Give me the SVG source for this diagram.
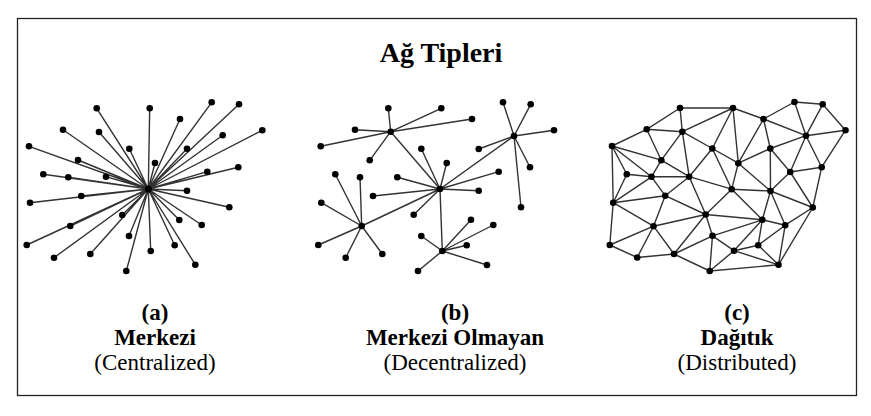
<svg xmlns="http://www.w3.org/2000/svg" xmlns:xlink="http://www.w3.org/1999/xlink" width="871" height="416" viewBox="0 0 871 416">
<style>
.e{stroke:#333;stroke-width:1.4;fill:none;stroke-linecap:round}
.n{fill:#000}
.t{font-family:"Liberation Serif","Times New Roman",serif;fill:#000;text-anchor:middle}
.b{font-weight:bold}
</style>
<rect width="871" height="416" fill="#fff"/>
<rect x="17.5" y="18.5" width="839" height="377" fill="none" stroke="#222" stroke-width="1.3"/>
<text class="t b" x="441" y="62" font-size="28">Ağ Tipleri</text>

<g id="connectors">
<g id="conn-a" class="e">
<path d="M148.3 189L96.7 108.3M148.3 189L149.7 108.3M148.3 189L211.7 102.3M148.3 189L239 104.3M148.3 189L180 119M148.3 189L63 129.7M148.3 189L99 132M148.3 189L262.3 130.3M148.3 189L222.7 135.3M148.3 189L29 146.3M148.3 189L129.3 148.7M148.3 189L187 148.7M148.3 189L78 160M148.3 189L155 163M148.3 189L43.3 174.3M148.3 189L68.3 177.3M148.3 189L106 176.7M148.3 189L207.3 171.7M148.3 189L238.3 167.3M148.3 189L30 202.7M148.3 189L81.3 196M148.3 189L187 190.7M148.3 189L229.3 207.3M148.3 189L122.3 215M148.3 189L179.3 220M148.3 189L201.7 225M148.3 189L70.3 226M148.3 189L129 236M148.3 189L26.7 245M148.3 189L54 257.7M148.3 189L90.3 254M148.3 189L150.7 251M148.3 189L174.7 245.3M148.3 189L195.3 264.7M148.3 189L126.3 271"/>
</g>
<g id="conn-b" class="e">
<path d="M390.7 131.7L388.3 108.3M390.7 131.7L441.3 108.3M390.7 131.7L472 119M390.7 131.7L355 129.7M390.7 131.7L320.7 146.3M390.7 131.7L369.7 160.3M390.7 131.7L440 189"/>
<path d="M440 189L421.3 148.7M440 189L446.7 163M440 189L397.3 177.3M440 189L498.7 171.7M440 189L373 196M440 189L478.7 190.7M440 189L413.7 214.7M440 189L514 136M440 189L361.7 226M440 189L442.3 251"/>
<path d="M514 136L503 102.3M514 136L530.7 104.3M514 136L554 130.3M514 136L478.7 149M514 136L530 167.3M514 136L521 207.3"/>
<path d="M361.7 226L335.3 174.3M361.7 226L360 177.3M361.7 226L321.3 202.7M361.7 226L318.3 245M361.7 226L345.7 257.7M361.7 226L382.3 254"/>
<path d="M442.3 251L421.3 236M442.3 251L471 219.7M442.3 251L493.3 225M442.3 251L466.7 245.3M442.3 251L487 265M442.3 251L418 271"/>
</g>
<g id="conn-c" class="e">
<path d="M680 108L733 108M680 108L646.7 129.3M680 108L682.3 131.7M733 108L682.3 131.7M733 108L712.3 148.5M733 108L738.3 163.2M733 108L763.5 119M763.5 119L794.5 102M794.5 102L822.7 104.3M822.7 104.3L845.5 130.2M794.5 102L806 135.7M822.7 104.3L806 135.7M845.5 130.2L806 135.7M763.5 119L806 135.7M763.5 119L770.3 148.5M763.5 119L738.3 163.2M806 135.7L770.3 148.5M806 135.7L790.2 172M806 135.7L821.7 167.2M845.5 130.2L821.7 167.2"/>
<path d="M770.3 148.5L738.3 163.2M770.3 148.5L770.5 191M770.3 148.5L790.2 172M790.2 172L821.7 167.2M790.2 172L770.5 191M790.2 172L812.8 207.5M821.7 167.2L812.8 207.5M738.3 163.2L731.7 189.2M738.3 163.2L770.5 191M738.3 163.2L712.3 148.5M731.7 189.2L770.5 191M770.5 191L812.8 207.5M770.5 191L762.3 219.8M770.5 191L785.2 225.2M731.7 189.2L762.3 219.8M731.7 189.2L689.2 176.7M731.7 189.2L712.3 148.5M731.7 189.2L705.7 214.5"/>
<path d="M712.3 148.5L682.3 131.7M712.3 148.5L689.2 176.7M682.3 131.7L661.3 160.2M682.3 131.7L689.2 176.7M646.7 129.3L682.3 131.7M646.7 129.3L661.3 160.2M646.7 129.3L612 146M612 146L661.3 160.2M612 146L626.8 174.3M612 146L651.5 176.8M612 146L613.2 202.7M661.3 160.2L689.2 176.7M661.3 160.2L651.5 176.8M626.8 174.3L651.5 176.8M651.5 176.8L689.2 176.7M651.5 176.8L665.2 195.7M665.2 195.7L689.2 176.7"/>
<path d="M613.2 202.7L626.8 174.3M613.2 202.7L651.5 176.8M613.2 202.7L665.2 195.7M613.2 202.7L653.5 226.2M613.2 202.7L609.8 245M665.2 195.7L653.5 226.2M665.2 195.7L705.7 214.5M689.2 176.7L705.7 214.5M653.5 226.2L705.7 214.5M653.5 226.2L609.8 245M653.5 226.2L637.2 257.5M653.5 226.2L674 254M609.8 245L637.2 257.5M637.2 257.5L674 254M674 254L705.7 214.5M674 254L712.5 235.8M705.7 214.5L712.5 235.8M705.7 214.5L762.3 219.8M712.5 235.8L762.3 219.8M712.5 235.8L734 250.7M712.5 235.8L709.7 271M674 254L709.7 271"/>
<path d="M709.7 271L734 250.7M709.7 271L778.5 264.8M734 250.7L778.5 264.8M734 250.7L758.2 245.2M758.2 245.2L778.5 264.8M762.3 219.8L734 250.7M762.3 219.8L758.2 245.2M762.3 219.8L785.2 225.2M785.2 225.2L758.2 245.2M785.2 225.2L778.5 264.8M812.8 207.5L785.2 225.2M812.8 207.5L778.5 264.8"/>
</g>
</g>

<g id="nodes-a" class="n">
<g id="a-hub"><circle cx="148.3" cy="189" r="3.6"/></g>
<g id="a1"><circle cx="96.7" cy="108.3" r="3.3"/></g>
<g id="a2"><circle cx="149.7" cy="108.3" r="3.3"/></g>
<g id="a3"><circle cx="211.7" cy="102.3" r="3.3"/></g>
<g id="a4"><circle cx="239" cy="104.3" r="3.3"/></g>
<g id="a5"><circle cx="180" cy="119" r="3.3"/></g>
<g id="a6"><circle cx="63" cy="129.7" r="3.3"/></g>
<g id="a7"><circle cx="99" cy="132" r="3.3"/></g>
<g id="a8"><circle cx="262.3" cy="130.3" r="3.3"/></g>
<g id="a9"><circle cx="222.7" cy="135.3" r="3.3"/></g>
<g id="a10"><circle cx="29" cy="146.3" r="3.3"/></g>
<g id="a11"><circle cx="129.3" cy="148.7" r="3.3"/></g>
<g id="a12"><circle cx="187" cy="148.7" r="3.3"/></g>
<g id="a13"><circle cx="78" cy="160" r="3.3"/></g>
<g id="a14"><circle cx="155" cy="163" r="3.3"/></g>
<g id="a15"><circle cx="43.3" cy="174.3" r="3.3"/></g>
<g id="a16"><circle cx="68.3" cy="177.3" r="3.3"/></g>
<g id="a17"><circle cx="106" cy="176.7" r="3.3"/></g>
<g id="a18"><circle cx="207.3" cy="171.7" r="3.3"/></g>
<g id="a19"><circle cx="238.3" cy="167.3" r="3.3"/></g>
<g id="a20"><circle cx="30" cy="202.7" r="3.3"/></g>
<g id="a21"><circle cx="81.3" cy="196" r="3.3"/></g>
<g id="a22"><circle cx="187" cy="190.7" r="3.3"/></g>
<g id="a23"><circle cx="229.3" cy="207.3" r="3.3"/></g>
<g id="a24"><circle cx="122.3" cy="215" r="3.3"/></g>
<g id="a25"><circle cx="179.3" cy="220" r="3.3"/></g>
<g id="a26"><circle cx="201.7" cy="225" r="3.3"/></g>
<g id="a27"><circle cx="70.3" cy="226" r="3.3"/></g>
<g id="a28"><circle cx="129" cy="236" r="3.3"/></g>
<g id="a29"><circle cx="26.7" cy="245" r="3.3"/></g>
<g id="a30"><circle cx="54" cy="257.7" r="3.3"/></g>
<g id="a31"><circle cx="90.3" cy="254" r="3.3"/></g>
<g id="a32"><circle cx="150.7" cy="251" r="3.3"/></g>
<g id="a33"><circle cx="174.7" cy="245.3" r="3.3"/></g>
<g id="a34"><circle cx="195.3" cy="264.7" r="3.3"/></g>
<g id="a35"><circle cx="126.3" cy="271" r="3.3"/></g>
</g>

<g id="nodes-b" class="n">
<g id="b-h1"><circle cx="390.7" cy="131.7" r="3.3"/></g>
<g id="b-h2"><circle cx="440" cy="189" r="3.3"/></g>
<g id="b-h3"><circle cx="514" cy="136" r="3.3"/></g>
<g id="b-h4"><circle cx="361.7" cy="226" r="3.3"/></g>
<g id="b-h5"><circle cx="442.3" cy="251" r="3.3"/></g>
<g id="b1"><circle cx="388.3" cy="108.3" r="3.3"/></g>
<g id="b2"><circle cx="441.3" cy="108.3" r="3.3"/></g>
<g id="b3"><circle cx="472" cy="119" r="3.3"/></g>
<g id="b4"><circle cx="355" cy="129.7" r="3.3"/></g>
<g id="b5"><circle cx="320.7" cy="146.3" r="3.3"/></g>
<g id="b6"><circle cx="369.7" cy="160.3" r="3.3"/></g>
<g id="b7"><circle cx="421.3" cy="148.7" r="3.3"/></g>
<g id="b8"><circle cx="446.7" cy="163" r="3.3"/></g>
<g id="b9"><circle cx="397.3" cy="177.3" r="3.3"/></g>
<g id="b10"><circle cx="498.7" cy="171.7" r="3.3"/></g>
<g id="b11"><circle cx="373" cy="196" r="3.3"/></g>
<g id="b12"><circle cx="478.7" cy="190.7" r="3.3"/></g>
<g id="b13"><circle cx="413.7" cy="214.7" r="3.3"/></g>
<g id="b14"><circle cx="503" cy="102.3" r="3.3"/></g>
<g id="b15"><circle cx="530.7" cy="104.3" r="3.3"/></g>
<g id="b16"><circle cx="554" cy="130.3" r="3.3"/></g>
<g id="b17"><circle cx="478.7" cy="149" r="3.3"/></g>
<g id="b18"><circle cx="530" cy="167.3" r="3.3"/></g>
<g id="b19"><circle cx="521" cy="207.3" r="3.3"/></g>
<g id="b20"><circle cx="335.3" cy="174.3" r="3.3"/></g>
<g id="b21"><circle cx="360" cy="177.3" r="3.3"/></g>
<g id="b22"><circle cx="321.3" cy="202.7" r="3.3"/></g>
<g id="b23"><circle cx="318.3" cy="245" r="3.3"/></g>
<g id="b24"><circle cx="345.7" cy="257.7" r="3.3"/></g>
<g id="b25"><circle cx="382.3" cy="254" r="3.3"/></g>
<g id="b26"><circle cx="421.3" cy="236" r="3.3"/></g>
<g id="b27"><circle cx="471" cy="219.7" r="3.3"/></g>
<g id="b28"><circle cx="493.3" cy="225" r="3.3"/></g>
<g id="b29"><circle cx="466.7" cy="245.3" r="3.3"/></g>
<g id="b30"><circle cx="487" cy="265" r="3.3"/></g>
<g id="b31"><circle cx="418" cy="271" r="3.3"/></g>
</g>

<g id="nodes-c" class="n">
<g id="cA"><circle cx="680" cy="108" r="3.3"/></g>
<g id="cB"><circle cx="733" cy="108" r="3.3"/></g>
<g id="cC"><circle cx="794.5" cy="102" r="3.3"/></g>
<g id="cD"><circle cx="822.7" cy="104.3" r="3.3"/></g>
<g id="cE"><circle cx="763.5" cy="119" r="3.3"/></g>
<g id="cF"><circle cx="646.7" cy="129.3" r="3.3"/></g>
<g id="cG"><circle cx="682.3" cy="131.7" r="3.3"/></g>
<g id="cH"><circle cx="845.5" cy="130.2" r="3.3"/></g>
<g id="cI"><circle cx="806" cy="135.7" r="3.3"/></g>
<g id="cJ"><circle cx="612" cy="146" r="3.3"/></g>
<g id="cK"><circle cx="712.3" cy="148.5" r="3.3"/></g>
<g id="cL"><circle cx="770.3" cy="148.5" r="3.3"/></g>
<g id="cM"><circle cx="661.3" cy="160.2" r="3.3"/></g>
<g id="cN"><circle cx="738.3" cy="163.2" r="3.3"/></g>
<g id="cO"><circle cx="626.8" cy="174.3" r="3.3"/></g>
<g id="cP"><circle cx="651.5" cy="176.8" r="3.3"/></g>
<g id="cQ"><circle cx="689.2" cy="176.7" r="3.3"/></g>
<g id="cR"><circle cx="790.2" cy="172" r="3.3"/></g>
<g id="cS"><circle cx="821.7" cy="167.2" r="3.3"/></g>
<g id="cT"><circle cx="613.2" cy="202.7" r="3.3"/></g>
<g id="cU"><circle cx="665.2" cy="195.7" r="3.3"/></g>
<g id="cV"><circle cx="731.7" cy="189.2" r="3.3"/></g>
<g id="cW"><circle cx="770.5" cy="191" r="3.3"/></g>
<g id="cX"><circle cx="812.8" cy="207.5" r="3.3"/></g>
<g id="cY"><circle cx="705.7" cy="214.5" r="3.3"/></g>
<g id="cZ"><circle cx="762.3" cy="219.8" r="3.3"/></g>
<g id="ca"><circle cx="785.2" cy="225.2" r="3.3"/></g>
<g id="cb"><circle cx="653.5" cy="226.2" r="3.3"/></g>
<g id="cc"><circle cx="712.5" cy="235.8" r="3.3"/></g>
<g id="cd"><circle cx="609.8" cy="245" r="3.3"/></g>
<g id="ce"><circle cx="758.2" cy="245.2" r="3.3"/></g>
<g id="cf"><circle cx="637.2" cy="257.5" r="3.3"/></g>
<g id="cg"><circle cx="674" cy="254" r="3.3"/></g>
<g id="ch"><circle cx="734" cy="250.7" r="3.3"/></g>
<g id="ci"><circle cx="778.5" cy="264.8" r="3.3"/></g>
<g id="cj"><circle cx="709.7" cy="271" r="3.3"/></g>
</g>

<g id="labels" class="t" font-size="23">
<text class="b" x="155" y="320">(a)</text>
<text class="b" x="155" y="345">Merkezi</text>
<text x="155" y="370">(Centralized)</text>
<text class="b" x="455" y="320">(b)</text>
<text class="b" x="455" y="345">Merkezi Olmayan</text>
<text x="455" y="370">(Decentralized)</text>
<text class="b" x="737" y="320">(c)</text>
<text class="b" x="737" y="345">Dağıtık</text>
<text x="737" y="370">(Distributed)</text>
</g>
</svg>
